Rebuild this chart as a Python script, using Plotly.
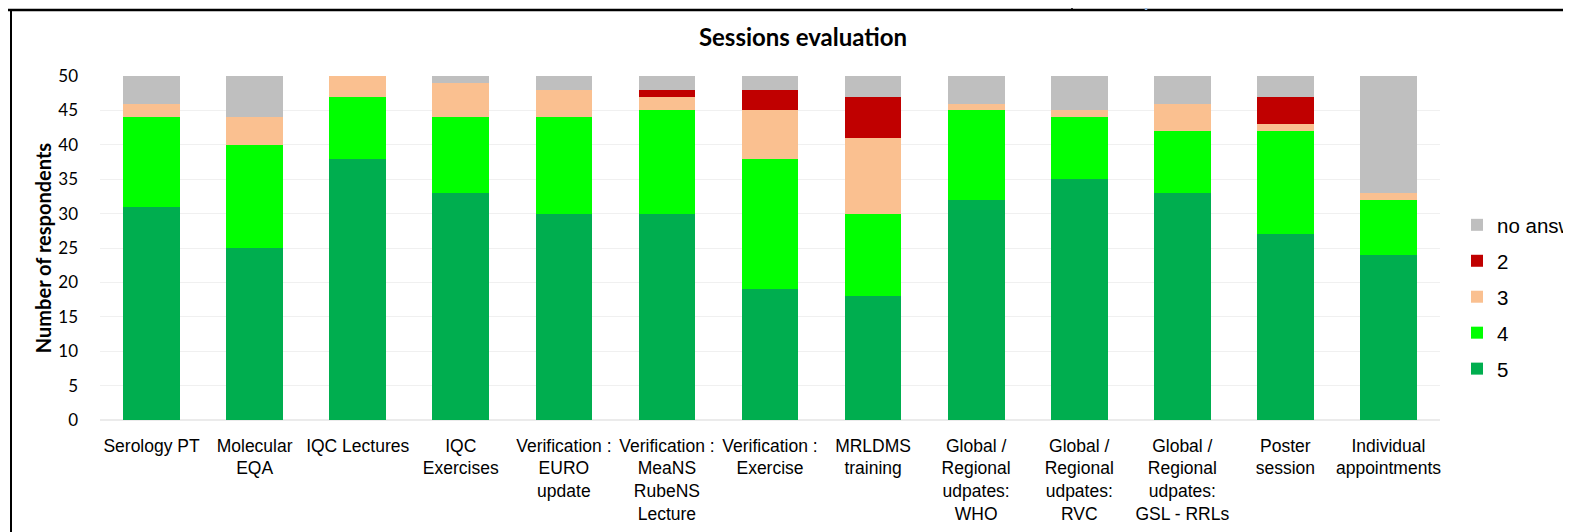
import plotly.graph_objects as go

categories = [
    "Serology PT", "Molecular<br>EQA", "IQC Lectures", "IQC<br>Exercises",
    "Verification :<br>EURO<br>update", "Verification :<br>MeaNS<br>RubeNS<br>Lecture",
    "Verification :<br>Exercise", "MRLDMS<br>training",
    "Global /<br>Regional<br>udpates:<br>WHO", "Global /<br>Regional<br>udpates:<br>RVC",
    "Global /<br>Regional<br>udpates:<br>GSL - RRLs", "Poster<br>session",
    "Individual<br>appointments",
]
score5 = [31, 25, 38, 33, 30, 30, 19, 18, 32, 35, 33, 27, 24]
score4 = [13, 15, 9, 11, 14, 15, 19, 12, 13, 9, 9, 15, 8]
score3 = [2, 4, 3, 5, 4, 2, 7, 11, 1, 1, 4, 1, 1]
score2 = [0, 0, 0, 0, 0, 1, 3, 6, 0, 0, 0, 4, 0]
no_answer = [4, 6, 0, 1, 2, 2, 2, 3, 4, 5, 4, 3, 17]

series = [
    ("5", score5, "#00AE4F"),
    ("4", score4, "#00FF00"),
    ("3", score3, "#FAC090"),
    ("2", score2, "#C00000"),
    ("no answer", no_answer, "#BFBFBF"),
]

fig = go.Figure()
for i, (name, vals, col) in enumerate(series):
    fig.add_trace(go.Bar(
        x=categories, y=vals, name=name, legendgroup=name,
        legendrank=len(series) - i,
        marker=dict(color=col, line=dict(width=0)),
    ))

# page body has an 8px margin; work in page pixel coordinates
OFF = 8
PAGE_W, PAGE_H = 1571, 532
W, H = PAGE_W - OFF, PAGE_H - OFF
X0, X1, Y0, Y1 = 100, 1440, 76, 420  # plot area in page pixels
L, T = X0 - OFF, Y0 - OFF
R, B = W - (X1 - OFF), H - (Y1 - OFF)
pw, ph = X1 - X0, Y1 - Y0

def px(x):
    return (x - X0) / pw

def py(y):
    return (Y1 - y) / ph

fig.update_layout(
    width=W, height=H,
    margin=dict(l=L, r=R, t=T, b=B, autoexpand=False),
    barmode="stack", bargap=0.45,
    plot_bgcolor="white", paper_bgcolor="white",
    title=dict(text="<b>Sessions evaluation</b>", xref="container", x=(803 - OFF) / W,
               xanchor="center", y=1 - (38 - OFF) / H, yanchor="middle",
               font=dict(family="Lato, Carlito, Open Sans", size=24, color="black")),
    yaxis=dict(range=[0, 50], dtick=5, showgrid=True, gridcolor="#F0F0F0", gridwidth=1,
               zeroline=True, zerolinecolor="#EBEBEB", showline=False,
               tickfont=dict(family="Lato, Carlito, Open Sans", size=17, color="black"),
               ticklabelstandoff=21,
               title=dict(text="<b>Number of respondents</b>", standoff=1,
                          font=dict(family="Lato, Carlito, Open Sans", size=20, color="black"))),
    xaxis=dict(showgrid=False, showline=False, ticks="",
               tickfont=dict(family="Liberation Sans", size=17.5, color="black"),
               ticklabelstandoff=13, tickangle=0),
    legend=dict(x=px(1457), xanchor="left", y=py(205), yanchor="top",
                traceorder="grouped", tracegroupgap=6.3,
                font=dict(family="Liberation Sans", size=20.5, color="black"),
                bgcolor="rgba(0,0,0,0)"),
    shapes=[
        dict(type="line", xref="paper", yref="paper", x0=px(-5), x1=px(PAGE_W + 5), y0=py(10), y1=py(10),
             line=dict(color="black", width=2.5)),
        dict(type="line", xref="paper", yref="paper", x0=px(11), x1=px(11), y0=py(10), y1=py(PAGE_H + 5),
             line=dict(color="black", width=2)),
        dict(type="line", xref="paper", yref="paper", x0=px(1072), x1=px(1072), y0=py(-5), y1=py(10),
             line=dict(color="black", width=1.5)),
        dict(type="line", xref="paper", yref="paper", x0=px(1146), x1=px(1146), y0=py(-5), y1=py(10),
             line=dict(color="#8FB4DC", width=2.5)),
    ],
)

fig.write_html("out.html")
